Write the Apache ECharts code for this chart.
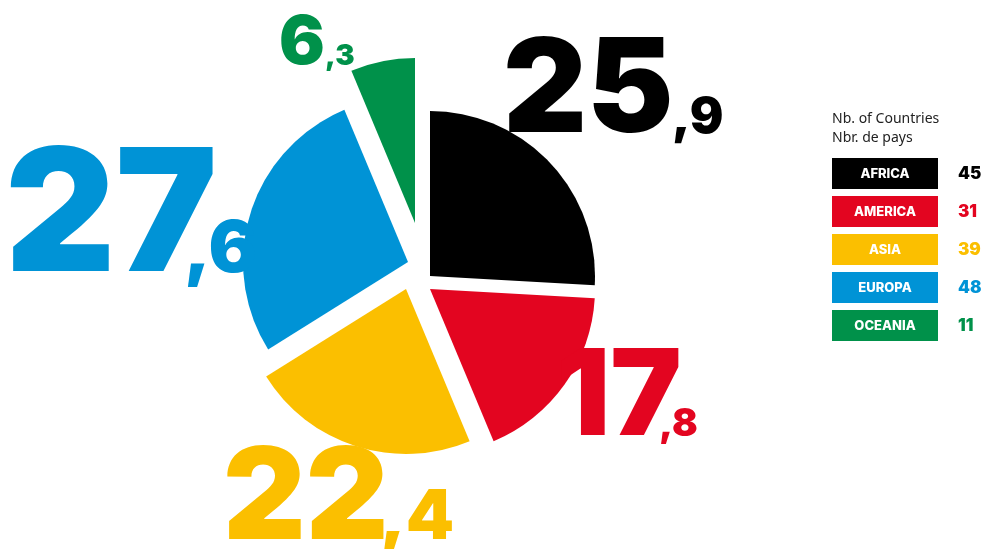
<!DOCTYPE html>
<html>
<head>
<meta charset="utf-8">
<script src="https://cdn.jsdelivr.net/npm/echarts@6/dist/echarts.min.js"></script>
<style>
  html, body { margin: 0; padding: 0; background: #fff; }
  #main { width: 987px; height: 549px; }
</style>
</head>
<body>
<div id="main"></div>
<script>
// data
var regions = ["AFRICA", "AMERICA", "ASIA", "EUROPA", "OCEANIA"];
var shares = [25.9, 17.8, 22.4, 27.6, 6.3];
var countries = [45, 31, 39, 48, 11];
var colors = ["#000000", "#E30520", "#FBBF00", "#0093D6", "#00914A"];
var legendTitle = "Nb. of Countries\nNbr. de pays";

// layout (each slice is pulled apart by hand, so each gets its own centre)
var sliceCenters = [[430, 276], [430, 289], [406, 289], [408, 262], [415, 223]];
var intSpots = [[503, 133], [556, 436], [223, 540], [5, 273], [279, 65]];   // left, baseline
var decSpots = [[672, 133], [659, 436], [380, 540], [184, 273], [325, 65]]; // left, baseline
var bigSize = [130, 120, 128, 171, 68];
var smallSize = [50, 38, 69, 72, 29];
var K = 0.31; // centre -> baseline, in em
var FONT = "Inter";

function splitValue(v) {
  return v.toFixed(1).split(".");
}

var series = [];
for (var s = 0; s < regions.length; s++) {
  (function (s) {
    var big = bigSize[s];
    var data = shares.map(function (v, i) {
      var item = { name: regions[i], value: v };
      if (i === s) {
        item.itemStyle = { color: colors[i] };
        item.label = { show: true };
      } else {
        item.itemStyle = { color: "rgba(0,0,0,0)" };
        item.label = { show: false };
      }
      return item;
    });
    series.push({
      type: "pie",
      silent: true,
      animation: false,
      center: sliceCenters[s],
      radius: [0, 165],
      startAngle: 90,
      avoidLabelOverlap: false,
      labelLine: { show: false },
      label: {
        position: "outside",
        fontFamily: FONT,
        fontWeight: 900,
        fontSize: big,
        lineHeight: big,
        color: colors[s],
        formatter: function (p) {
          return splitValue(p.value)[0];
        }
      },
      labelLayout: {
        x: intSpots[s][0],
        y: intSpots[s][1] - K * big,
        align: "left",
        verticalAlign: "middle"
      },
      data: data
    });
  })(s);
}

var graphics = [];
// decimal part of each share, smaller
shares.forEach(function (v, i) {
  var f = smallSize[i];
  graphics.push({
    type: "text",
    x: decSpots[i][0],
    y: decSpots[i][1] - K * f,
    z: 10,
    style: {
      text: "," + splitValue(v)[1],
      fill: colors[i], fontFamily: FONT, fontWeight: 900, fontSize: f, lineHeight: f,
      align: "left", verticalAlign: "middle"
    }
  });
});

// legend panel on the right
graphics.push({
  type: "text",
  left: 832,
  top: 110,
  style: { text: legendTitle, fontFamily: "Noto Sans", fontSize: 14, lineHeight: 19, fill: "#222" }
});
regions.forEach(function (r, i) {
  var top = 158 + 38 * i;
  graphics.push({
    type: "rect",
    shape: { x: 832, y: top, width: 106, height: 31 },
    style: { fill: colors[i] }
  });
  graphics.push({
    type: "text",
    x: 885, y: top + 16,
    style: {
      text: r, fill: "#fff", fontFamily: FONT, fontWeight: 800, fontSize: 13,
      align: "center", verticalAlign: "middle"
    }
  });
  graphics.push({
    type: "text",
    x: 958, y: top + 16,
    style: {
      text: String(countries[i]), fill: colors[i], fontFamily: FONT, fontWeight: 900,
      fontSize: 17, align: "left", verticalAlign: "middle"
    }
  });
});

var chart = echarts.init(document.getElementById("main"));
chart.setOption({
  backgroundColor: "#fff",
  tooltip: { show: false },
  series: series,
  graphic: graphics
});
</script>
</body>
</html>
